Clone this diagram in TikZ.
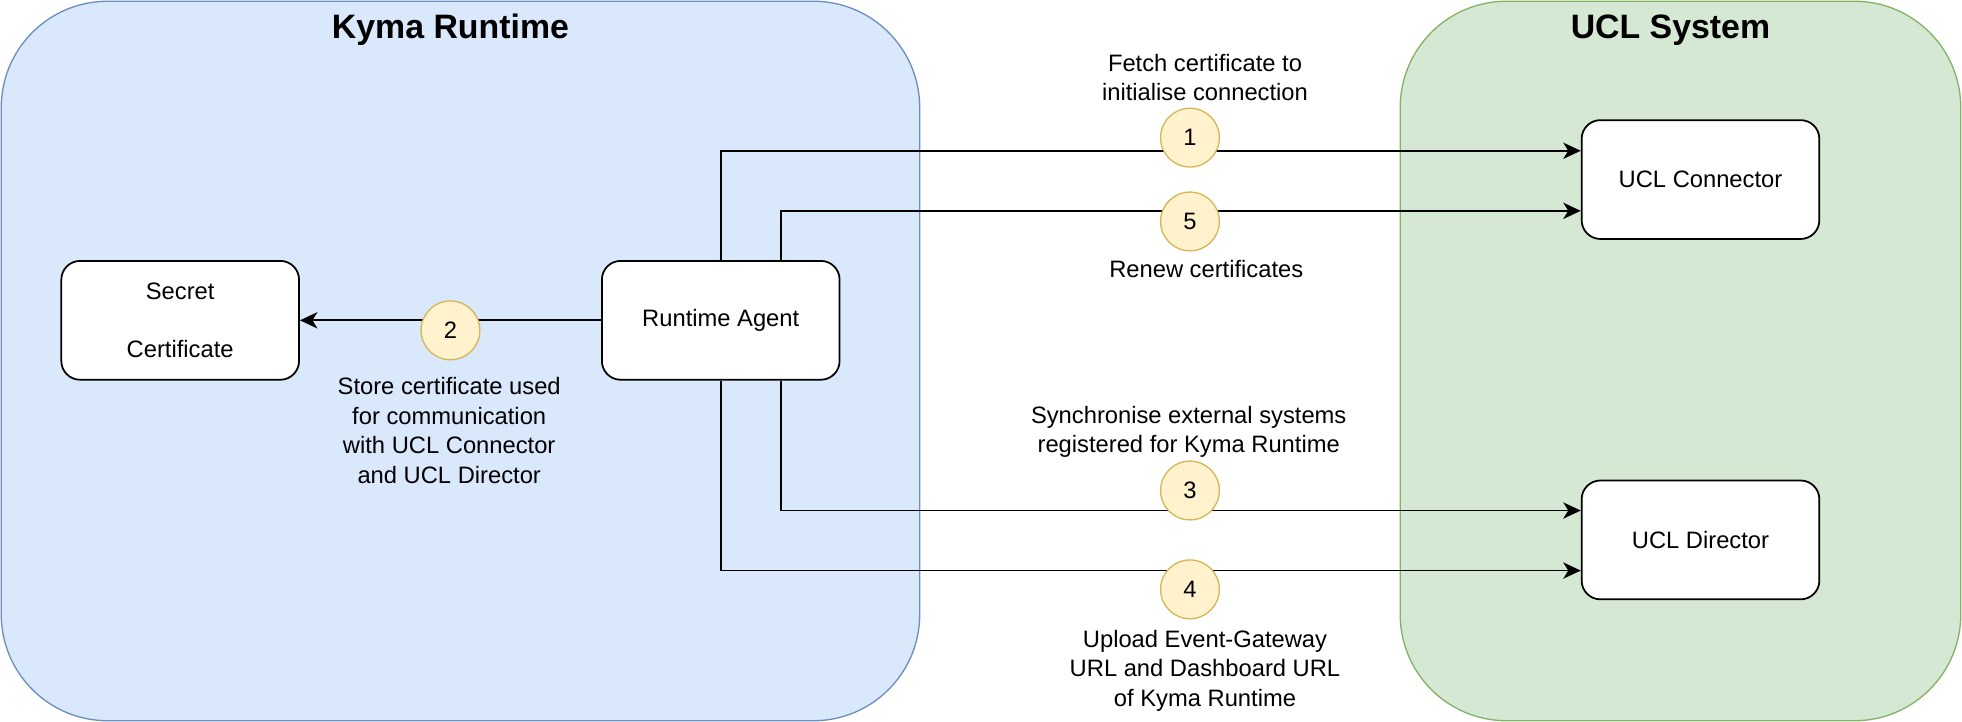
\documentclass[tikz,border=0pt]{standalone}
\usepackage{fontspec}
\setmainfont{Liberation Sans}
\usepackage{tikz}
\usetikzlibrary{arrows.meta}
\definecolor{kymafill}{HTML}{DAE8FC}
\definecolor{kymaline}{HTML}{6C8EBF}
\definecolor{uclfill}{HTML}{D5E8D4}
\definecolor{uclline}{HTML}{82B366}
\definecolor{stepfill}{HTML}{FFF2CC}
\definecolor{stepline}{HTML}{D6B656}
\tikzset{
  txt/.style = {align=center, inner sep=0pt, font=\fontsize{10.8}{13.4}\selectfont},
  area/.style = {rounded corners=1.7cm, line width=0.6pt},
  kyma/.style = {area, fill=kymafill, draw=kymaline},% Kyma Runtime
  ucl/.style = {area, fill=uclfill, draw=uclline},% UCL System
  title/.style = {txt, font=\fontsize{15.4}{18}\selectfont\bfseries},
  comp/.style = {txt, draw=black, fill=white, rounded corners=0.3cm,
    line width=0.8pt, minimum width=3.8cm, minimum height=1.9cm},
  stepno/.style = {txt, circle, draw=stepline, fill=stepfill,
    line width=0.6pt, minimum size=0.94cm}
}

\begin{document}
\begin{tikzpicture}[->,>={Stealth[length=0.28cm,width=0.26cm,inset=0.08cm]},
  line width=0.8pt,x=0.02cm,y=-0.02cm]
\useasboundingbox (0,0) rectangle (1568,577);
% containers
\draw[kyma,-] (1,1) rectangle (735,576);
\draw[ucl,-] (1119,1) rectangle (1567,576);
\node[title] (kymatitle) at (360,24) {Kyma Runtime};
\node[title] (ucltitle) at (1335,24) {UCL System};
% components
\node[comp] (secret) at (144,256) {Secret\\[13.4pt]Certificate};
\node[comp] (agent) at (576,256) {Runtime Agent};
\node[comp] (conn) at (1359,143.5) {UCL Connector};
\node[comp] (dir) at (1359,431.5) {UCL Director};
% connections
\draw (agent.north) |- ([yshift=0.46cm]conn.west);
\draw ([xshift=0.96cm]agent.north) |- ([yshift=-0.5cm]conn.west);
\draw (agent.west) -- (secret.east);
\draw ([xshift=0.96cm]agent.south) |- ([yshift=0.47cm]dir.west);
\draw (agent.south) |- ([yshift=-0.49cm]dir.west);
% step numbers
\node[stepno] (s1) at (951,110) {1};
\node[stepno] (s2) at (360,264) {2};
\node[stepno] (s3) at (951,392) {3};
\node[stepno] (s4) at (951,471) {4};
\node[stepno] (s5) at (951,177) {5};
% labels
\node[txt] (l1) at (963,62) {Fetch certificate to\\initialise connection};
\node[txt] (l2) at (359,344) {Store certificate used\\for communication\\with UCL Connector\\and UCL Director};
\node[txt] (l3) at (950,345) {Synchronise external systems\\registered for Kyma Runtime};
\node[txt] (l4) at (963,536) {Upload Event-Gateway\\URL and Dashboard URL\\of Kyma Runtime};
\node[txt] (l5) at (964,215) {Renew certificates};
\end{tikzpicture}
\end{document}
